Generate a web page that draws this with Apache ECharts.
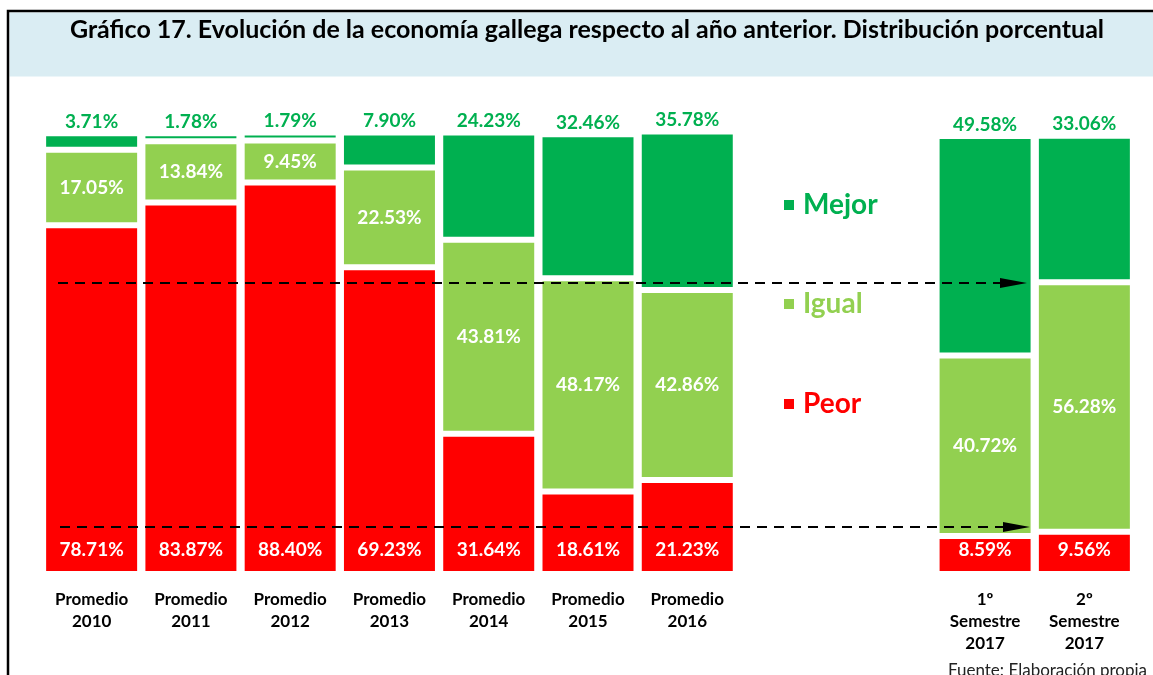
<!DOCTYPE html>
<html><head><meta charset="utf-8">
<script src="https://cdn.jsdelivr.net/npm/echarts@6/dist/echarts.min.js"></script>
<style>html,body{margin:0;padding:0;background:#fff}#c{width:1153px;height:675px}</style>
</head><body><div id="c"></div>
<script>
const categories = ['Promedio\n2010','Promedio\n2011','Promedio\n2012','Promedio\n2013','Promedio\n2014','Promedio\n2015','Promedio\n2016','','','1º\nSemestre\n2017','2º\nSemestre\n2017'];
const peor  = [78.71, 83.87, 88.40, 69.23, 31.64, 18.61, 21.23, '-', '-', 8.59, 9.56];
const igual = [17.05, 13.84, 9.45, 22.53, 43.81, 48.17, 42.86, '-', '-', 40.72, 56.28];
const mejor = [3.71, 1.78, 1.79, 7.90, 24.23, 32.46, 35.78, '-', '-', 49.58, 33.06];

const FONT = 'Lato';
const cMejor = '#00b050', cIgual = '#92d050', cPeor = '#ff0000';
const fmt = p => Number(p.value).toFixed(2) + '%';

const chart = echarts.init(document.getElementById('c'));
const labelBase = {fontFamily: FONT, fontWeight: 'bold', fontSize: 19};
const itemBase = {borderColor: '#fff', borderWidth: 3};
const legText = c => ({color: c, fontFamily: FONT, fontWeight: 'bold', fontSize: 28, padding: [0, 0, 0, 3]});

chart.setOption({
  animation: false,
  grid: {left: 42, right: 19, top: 131, bottom: 101, containLabel: false},
  xAxis: {
    type: 'category', data: categories,
    axisLine: {show: false}, axisTick: {show: false},
    axisLabel: {interval: 0, margin: 15, fontFamily: FONT, fontWeight: 'bold', fontSize: 17, lineHeight: 22, color: '#000'}
  },
  yAxis: {type: 'value', min: 0, max: 100, show: false},
  legend: [
    {data: [{name: 'Mejor'}], left: 777, top: 186, icon: 'rect', itemWidth: 12, itemHeight: 12,
     textStyle: legText(cMejor), selectedMode: false},
    {data: [{name: 'Igual'}], left: 777, top: 285, icon: 'rect', itemWidth: 12, itemHeight: 12,
     textStyle: legText(cIgual), selectedMode: false},
    {data: [{name: 'Peor'}], left: 777, top: 385, icon: 'rect', itemWidth: 12, itemHeight: 12,
     textStyle: legText(cPeor), selectedMode: false}
  ],
  series: [
    {name: 'Peor', type: 'bar', stack: 't', data: peor, barWidth: 97,
     itemStyle: Object.assign({color: cPeor}, itemBase),
     label: Object.assign({show: true, position: 'insideBottom', distance: 15, color: '#fff', formatter: fmt}, labelBase)},
    {name: 'Igual', type: 'bar', stack: 't', data: igual, barWidth: 97,
     itemStyle: Object.assign({color: cIgual}, itemBase),
     label: Object.assign({show: true, position: 'inside', color: '#fff', formatter: fmt}, labelBase)},
    {name: 'Mejor', type: 'bar', stack: 't', data: mejor, barWidth: 97,
     itemStyle: Object.assign({color: cMejor}, itemBase),
     label: Object.assign({show: true, position: 'top', distance: 2, color: cMejor, formatter: fmt}, labelBase)}
  ],
  graphic: [
    {type: 'rect', shape: {x: 8, y: 11, width: 1170, height: 700}, style: {fill: 'none', stroke: '#000', lineWidth: 2.5}, z: 0},
    {type: 'rect', shape: {x: 9.5, y: 12.5, width: 1170, height: 64}, style: {fill: '#daedf3'}, z: -1},
    {type: 'text', x: 587, y: 30, style: {text: 'Gráfico 17. Evolución de la economía gallega respecto al año anterior. Distribución porcentual',
      fontFamily: FONT, fontWeight: 'bold', fontSize: 25, fill: '#000', align: 'center', verticalAlign: 'middle'}},
    {type: 'text', x: 948, y: 671, style: {text: 'Fuente: Elaboración propia', fontFamily: FONT, fontSize: 17, fill: '#222', align: 'left', verticalAlign: 'middle'}},
    {type: 'line', shape: {x1: 58, y1: 283, x2: 1002, y2: 283}, style: {stroke: '#000', lineWidth: 2, lineDash: [10, 7]}, z: 100},
    {type: 'polygon', shape: {points: [[1000, 278], [1027, 283], [1000, 288]]}, style: {fill: '#000'}, z: 100},
    {type: 'line', shape: {x1: 60, y1: 527, x2: 1005, y2: 527}, style: {stroke: '#000', lineWidth: 2, lineDash: [10, 7]}, z: 100},
    {type: 'polygon', shape: {points: [[1003, 522], [1030, 527], [1003, 532]]}, style: {fill: '#000'}, z: 100}
  ]
});
</script></body></html>
